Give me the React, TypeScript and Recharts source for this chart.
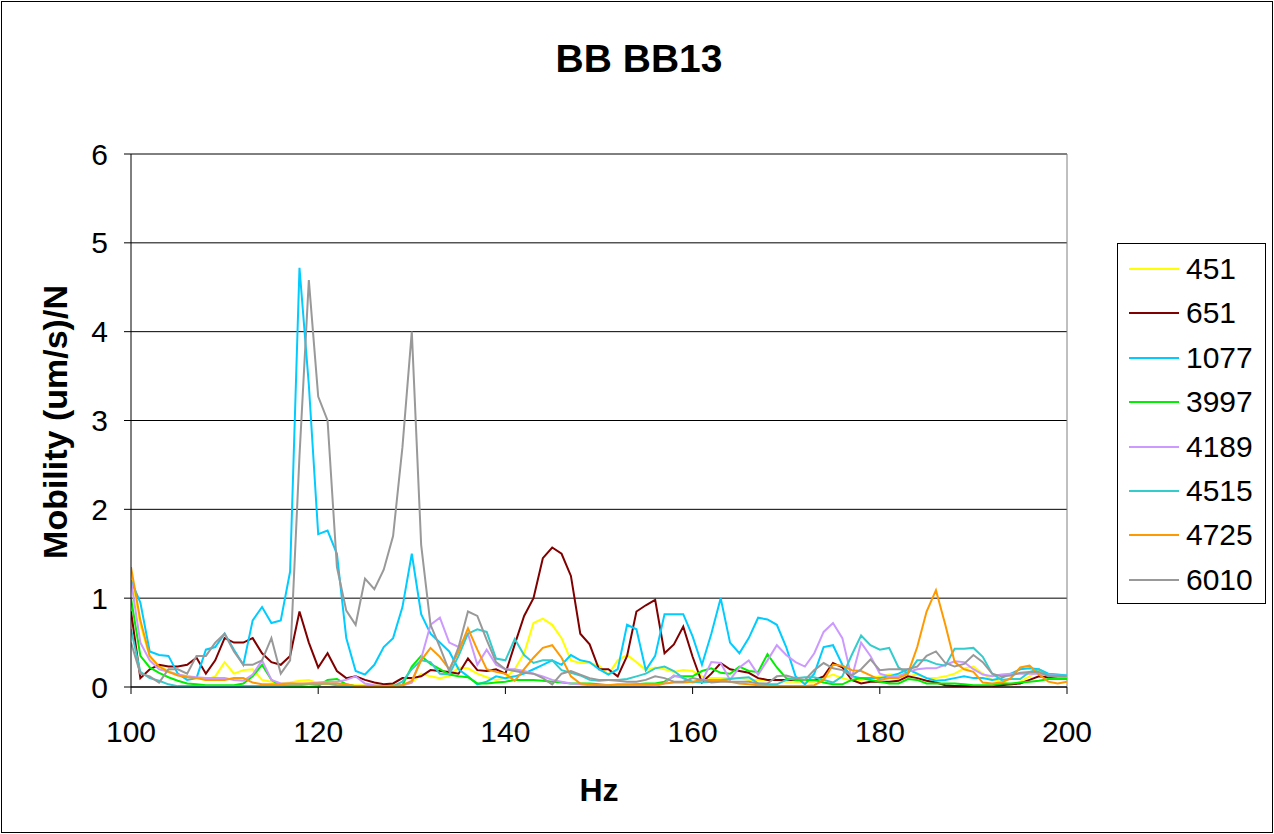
import React from "react";
import { LineChart, Line, XAxis, YAxis, CartesianGrid, ReferenceLine } from "recharts";

const freq = [
  100, 101, 102, 103, 104, 105, 106, 107, 108, 109,
  110, 111, 112, 113, 114, 115, 116, 117, 118, 119,
  120, 121, 122, 123, 124, 125, 126, 127, 128, 129,
  130, 131, 132, 133, 134, 135, 136, 137, 138, 139,
  140, 141, 142, 143, 144, 145, 146, 147, 148, 149,
  150, 151, 152, 153, 154, 155, 156, 157, 158, 159,
  160, 161, 162, 163, 164, 165, 166, 167, 168, 169,
  170, 171, 172, 173, 174, 175, 176, 177, 178, 179,
  180, 181, 182, 183, 184, 185, 186, 187, 188, 189,
  190, 191, 192, 193, 194, 195, 196, 197, 198, 199,
  200,
];

const s451 = [
  1.3, 0.7, 0.34, 0.24, 0.18, 0.14, 0.12, 0.1, 0.08, 0.12,
  0.28, 0.15, 0.19, 0.2, 0.08, 0.06, 0.04, 0.05, 0.07, 0.08,
  0.04, 0.03, 0.02, 0.02, 0.02, 0.02, 0.02, 0.02, 0.02, 0.02,
  0.05, 0.15, 0.12, 0.1, 0.12, 0.22, 0.21, 0.15, 0.11, 0.08,
  0.1, 0.2, 0.38, 0.72, 0.77, 0.7, 0.55, 0.3, 0.27, 0.27,
  0.24, 0.14, 0.3, 0.36, 0.28, 0.19, 0.22, 0.2, 0.17, 0.19,
  0.18, 0.12, 0.1, 0.1, 0.1, 0.1, 0.08, 0.08, 0.08, 0.08,
  0.06, 0.06, 0.06, 0.06, 0.1, 0.14, 0.1, 0.07, 0.08, 0.1,
  0.12, 0.14, 0.14, 0.12, 0.14, 0.1, 0.1, 0.12, 0.15, 0.21,
  0.23, 0.15, 0.08, 0.06, 0.02, 0.06, 0.12, 0.19, 0.14, 0.11,
  0.1,
];

const s651 = [
  0.85, 0.1, 0.2, 0.25, 0.23, 0.23, 0.25, 0.33, 0.15, 0.3,
  0.55, 0.5, 0.5, 0.55, 0.38, 0.28, 0.25, 0.35, 0.85, 0.5,
  0.22, 0.38, 0.18, 0.1, 0.12, 0.08, 0.05, 0.03, 0.04, 0.1,
  0.1, 0.12, 0.19, 0.18, 0.17, 0.15, 0.32, 0.19, 0.18, 0.2,
  0.15, 0.48, 0.8, 1.0, 1.45, 1.57, 1.5, 1.25, 0.6, 0.48,
  0.2, 0.2, 0.12, 0.35, 0.85, 0.92, 0.98, 0.38, 0.48, 0.68,
  0.34, 0.05, 0.15, 0.27, 0.2, 0.18, 0.16, 0.1, 0.08, 0.08,
  0.08, 0.08, 0.08, 0.08, 0.12, 0.27, 0.22, 0.08, 0.04, 0.06,
  0.06, 0.06, 0.07, 0.12, 0.1, 0.07, 0.05, 0.02, 0.01, 0.01,
  0.01, 0.01, 0.01, 0.02, 0.03, 0.04, 0.08, 0.12, 0.11, 0.12,
  0.12,
];

const s1077 = [
  1.2, 0.95, 0.4, 0.36, 0.35, 0.15, 0.08, 0.1, 0.42, 0.45,
  0.6, 0.42, 0.25, 0.75, 0.9, 0.72, 0.75, 1.3, 4.72, 3.4,
  1.72, 1.76, 1.5, 0.55, 0.18, 0.14, 0.25, 0.45, 0.55, 0.9,
  1.5, 0.82, 0.6, 0.5, 0.4, 0.2, 0.12, 0.03, 0.06, 0.12,
  0.1, 0.12, 0.15, 0.2, 0.25, 0.3, 0.25, 0.36, 0.3, 0.28,
  0.2, 0.14, 0.2, 0.7, 0.65, 0.19, 0.35, 0.82, 0.82, 0.82,
  0.57, 0.25, 0.6, 1.0, 0.5, 0.38, 0.55, 0.78, 0.76, 0.7,
  0.45, 0.12, 0.03, 0.15, 0.45, 0.47, 0.25, 0.12, 0.1, 0.1,
  0.1, 0.12, 0.15, 0.2, 0.15, 0.1, 0.07, 0.08, 0.1, 0.12,
  0.1, 0.1, 0.08, 0.1, 0.15, 0.2, 0.21, 0.2, 0.15, 0.14,
  0.13,
];

const s3997 = [
  1.0, 0.35, 0.22, 0.16, 0.11, 0.07, 0.04, 0.03, 0.02, 0.02,
  0.02, 0.02, 0.04, 0.12, 0.25, 0.08, 0.01, 0.0, 0.0, 0.0,
  0.01, 0.08, 0.09, 0.03, 0.01, 0.0, 0.0, 0.0, 0.0, 0.02,
  0.23, 0.35, 0.26, 0.2, 0.14, 0.12, 0.11, 0.04, 0.04, 0.05,
  0.06, 0.08, 0.08, 0.08, 0.07, 0.06, 0.05, 0.04, 0.04, 0.04,
  0.03, 0.02, 0.02, 0.02, 0.03, 0.04, 0.04, 0.06, 0.12, 0.12,
  0.12, 0.18, 0.21, 0.16, 0.15, 0.23, 0.18, 0.17, 0.37, 0.22,
  0.1, 0.08, 0.08, 0.08, 0.05, 0.03, 0.03, 0.08, 0.1, 0.08,
  0.06, 0.04, 0.04, 0.09, 0.08, 0.04, 0.04, 0.04, 0.04, 0.03,
  0.02, 0.02, 0.02, 0.04, 0.04, 0.05, 0.06, 0.07, 0.09, 0.09,
  0.09,
];

const s4189 = [
  1.2, 0.5, 0.3, 0.2, 0.17, 0.14, 0.12, 0.11, 0.1, 0.1,
  0.1, 0.08, 0.07, 0.14, 0.3, 0.08, 0.04, 0.04, 0.03, 0.04,
  0.05, 0.06, 0.06, 0.08, 0.12, 0.04, 0.02, 0.01, 0.01, 0.02,
  0.05, 0.32, 0.7, 0.78, 0.5, 0.45, 0.6, 0.25, 0.42, 0.25,
  0.2, 0.2, 0.18, 0.15, 0.12, 0.08, 0.06, 0.04, 0.03, 0.02,
  0.02, 0.02, 0.02, 0.02, 0.02, 0.02, 0.01, 0.04, 0.13, 0.1,
  0.05, 0.06, 0.28, 0.27, 0.08, 0.22, 0.3, 0.14, 0.3, 0.47,
  0.36, 0.28, 0.23, 0.38, 0.62, 0.72, 0.55, 0.1, 0.5, 0.35,
  0.15, 0.12, 0.12, 0.17, 0.2, 0.21, 0.21, 0.25, 0.29, 0.28,
  0.2, 0.14, 0.12, 0.14, 0.15, 0.15, 0.15, 0.15, 0.14, 0.13,
  0.12,
];

const s4515 = [
  0.65, 0.17, 0.1, 0.07, 0.03, 0.01, 0.01, 0.01, 0.01, 0.01,
  0.01, 0.01, 0.01, 0.01, 0.01, 0.01, 0.01, 0.02, 0.02, 0.03,
  0.03, 0.04, 0.02, 0.01, 0.01, 0.01, 0.01, 0.01, 0.01, 0.06,
  0.2, 0.3, 0.28, 0.15, 0.14, 0.35, 0.6, 0.65, 0.62, 0.32,
  0.3, 0.54, 0.36, 0.27, 0.3, 0.3, 0.19, 0.16, 0.13, 0.08,
  0.07, 0.08, 0.08, 0.09, 0.12, 0.15, 0.21, 0.23, 0.18, 0.1,
  0.06, 0.05, 0.06, 0.08, 0.09, 0.1, 0.11, 0.04, 0.03, 0.03,
  0.08, 0.1, 0.11, 0.11, 0.08, 0.05, 0.12, 0.36, 0.58, 0.47,
  0.42, 0.44, 0.22, 0.15, 0.3, 0.3, 0.26, 0.24, 0.43, 0.43,
  0.44, 0.34, 0.15, 0.08, 0.09, 0.09, 0.17, 0.2, 0.13, 0.13,
  0.13,
];

const s4725 = [
  1.35, 0.75, 0.35, 0.23, 0.17, 0.13, 0.11, 0.1, 0.08, 0.08,
  0.08, 0.1, 0.1, 0.05, 0.03, 0.03, 0.03, 0.04, 0.04, 0.04,
  0.04, 0.04, 0.04, 0.03, 0.01, 0.01, 0.01, 0.01, 0.01, 0.02,
  0.07, 0.3, 0.44, 0.34, 0.2, 0.4, 0.66, 0.42, 0.2, 0.17,
  0.15, 0.07, 0.2, 0.33, 0.44, 0.47, 0.33, 0.12, 0.04, 0.03,
  0.02, 0.02, 0.03, 0.03, 0.03, 0.03, 0.03, 0.04, 0.05, 0.05,
  0.06, 0.08, 0.08, 0.08, 0.06, 0.04, 0.03, 0.02, 0.01, 0.01,
  0.01, 0.01, 0.01, 0.02, 0.08, 0.25, 0.24, 0.19, 0.18, 0.13,
  0.08, 0.1, 0.1, 0.15, 0.45, 0.85, 1.09, 0.7, 0.28, 0.2,
  0.17, 0.05, 0.04, 0.05, 0.1, 0.22, 0.24, 0.14, 0.06, 0.04,
  0.06,
];

const s6010 = [
  0.5, 0.15, 0.12, 0.05, 0.2, 0.2, 0.15, 0.35, 0.35, 0.5,
  0.6, 0.4, 0.25, 0.25, 0.3, 0.55, 0.15, 0.3, 2.6, 4.58,
  3.27, 3.0, 1.35, 0.86, 0.7, 1.22, 1.1, 1.32, 1.7, 2.7,
  4.0, 1.6, 0.7, 0.45, 0.18, 0.45, 0.85, 0.8, 0.53, 0.28,
  0.2, 0.18, 0.16, 0.15, 0.1, 0.03, 0.15, 0.18, 0.14, 0.1,
  0.08, 0.08, 0.07, 0.06, 0.06, 0.08, 0.12, 0.1, 0.06, 0.06,
  0.1, 0.08, 0.05, 0.06, 0.06, 0.06, 0.06, 0.04, 0.04, 0.12,
  0.13, 0.1, 0.08, 0.19, 0.27, 0.21, 0.19, 0.13, 0.2, 0.31,
  0.19, 0.2, 0.2, 0.2, 0.23, 0.35, 0.4, 0.27, 0.23, 0.26,
  0.36, 0.28, 0.15, 0.12, 0.13, 0.16, 0.17, 0.17, 0.12, 0.12,
  0.12,
];

const seriesNames = ["451", "651", "1077", "3997", "4189", "4515", "4725", "6010"];
const seriesColors = ["#FFFF00", "#800000", "#00CCFF", "#00EE00", "#CC99FF", "#33CCCC", "#FF9900", "#999999"];
const seriesValues = [s451, s651, s1077, s3997, s4189, s4515, s4725, s6010];

const xTicks = [100, 120, 140, 160, 180, 200];
const yTicks = [0, 1, 2, 3, 4, 5, 6];

const titleText = "BB BB13";
const xTitle = "Hz";
const yTitle = "Mobility (um/s)/N";

const data = freq.map((f, i) => {
  const row: Record<string, number> = { hz: f };
  seriesNames.forEach((n, k) => {
    row[n] = seriesValues[k][i];
  });
  return row;
});

const FONT = '"Liberation Sans", Arial, Helvetica, sans-serif';

export default function App() {
  return (
    <div
      style={{
        position: "absolute",
        left: 0,
        top: 0,
        width: 1274,
        height: 834,
        background: "#fff",
        fontFamily: FONT,
        overflow: "hidden",
      }}
    >
      <div
        style={{
          position: "absolute",
          left: 1,
          top: 1,
          width: 1272,
          height: 832,
          border: "1px solid #000",
          boxSizing: "border-box",
        }}
      />
      <div style={{ position: "absolute", left: 0, top: 0 }}>
        <LineChart
          width={1274}
          height={834}
          data={data}
          margin={{ top: 154, right: 207, bottom: 87, left: 0 }}
        >
          <CartesianGrid horizontal={true} vertical={false} stroke="#000" strokeWidth={1} />
          <XAxis
            dataKey="hz"
            type="number"
            domain={[100, 200]}
            ticks={xTicks}
            height={60}
            stroke="#000"
            tickSize={7}
            tickMargin={27}
            tick={{ fill: "#000", fontSize: 30, fontFamily: FONT }}
            allowDataOverflow
          />
          <YAxis
            type="number"
            domain={[0, 6]}
            ticks={yTicks}
            width={131}
            stroke="#000"
            tickSize={7}
            tickMargin={16}
            tick={{ fill: "#000", fontSize: 30, fontFamily: FONT }}
            allowDataOverflow
          />
          <ReferenceLine x={200} stroke="#808080" strokeWidth={1} ifOverflow="extendDomain" />
          {seriesNames.map((n, k) => (
            <Line
              key={n}
              dataKey={n}
              type="linear"
              stroke={seriesColors[k]}
              strokeWidth={2}
              dot={false}
              activeDot={false}
              isAnimationActive={false}
            />
          ))}
        </LineChart>
      </div>
      <div
        style={{
          position: "absolute",
          left: 0,
          top: 37,
          width: 1278,
          textAlign: "center",
          fontSize: 39,
          fontWeight: "bold",
          lineHeight: "44px",
          color: "#000",
        }}
      >
        {titleText}
      </div>
      <div
        style={{
          position: "absolute",
          left: 499,
          top: 771,
          width: 200,
          textAlign: "center",
          fontSize: 32,
          fontWeight: "bold",
          lineHeight: "38px",
          color: "#000",
        }}
      >
        {xTitle}
      </div>
      <div
        style={{
          position: "absolute",
          left: 55,
          top: 422,
          transform: "translate(-50%, -50%) rotate(-90deg)",
          whiteSpace: "nowrap",
          fontSize: 34,
          fontWeight: "bold",
          lineHeight: "40px",
          color: "#000",
        }}
      >
        {yTitle}
      </div>
      <div
        style={{
          position: "absolute",
          left: 1117,
          top: 243,
          width: 149,
          height: 361,
          border: "1px solid #000",
          boxSizing: "border-box",
          background: "#fff",
        }}
      >
        {seriesNames.map((n, k) => (
          <div
            key={n}
            style={{
              position: "absolute",
              left: 0,
              top: 25 + k * 44.4 - 18,
              height: 36,
              width: 148,
              display: "flex",
              alignItems: "center",
            }}
          >
            <div
              style={{
                marginLeft: 11,
                width: 50,
                height: 2,
                background: seriesColors[k],
              }}
            />
            <div style={{ marginLeft: 7, fontSize: 30, color: "#000", lineHeight: "36px" }}>{n}</div>
          </div>
        ))}
      </div>
    </div>
  );
}
